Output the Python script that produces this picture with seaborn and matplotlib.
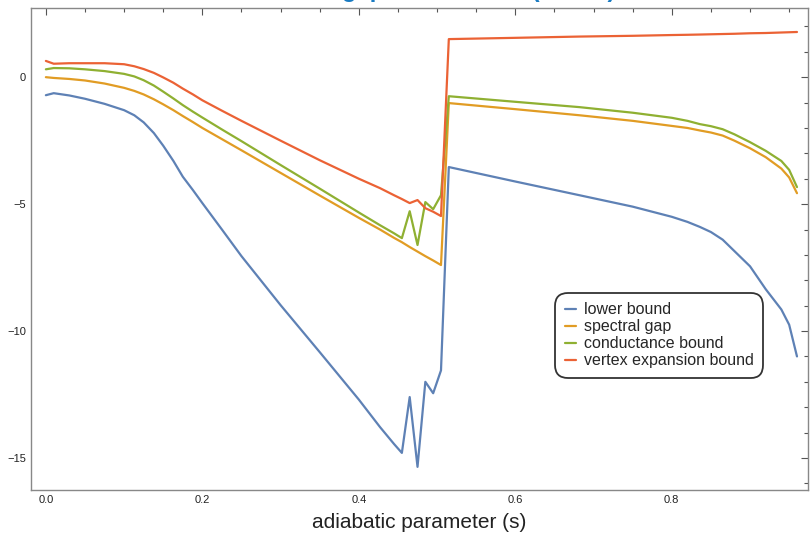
import numpy as np
import pandas as pd
import matplotlib
matplotlib.use('Agg')
import matplotlib.pyplot as plt
import seaborn as sns
from matplotlib.ticker import MultipleLocator

# adiabatic parameter samples
s = [0, 0.01, 0.03, 0.05, 0.075, 0.1, 0.113, 0.125, 0.138, 0.15, 0.163, 0.175,
     0.188, 0.2, 0.225, 0.25, 0.3, 0.35, 0.4, 0.427, 0.445, 0.455, 0.465, 0.475,
     0.485, 0.495, 0.505, 0.515, 0.6, 0.682, 0.75, 0.8, 0.82, 0.836, 0.85, 0.865,
     0.88, 0.9, 0.92, 0.94, 0.95, 0.96]

lower_bound = [-0.71, -0.63, -0.72, -0.85, -1.05, -1.3, -1.5, -1.78, -2.2, -2.7,
               -3.3, -3.92, -4.45, -4.96, -6.0, -7.05, -8.98, -10.83, -12.7, -13.78,
               -14.45, -14.8, -12.6, -15.35, -12.0, -12.45, -11.55, -3.54, -4.11,
               -4.65, -5.1, -5.5, -5.7, -5.9, -6.1, -6.4, -6.85, -7.45, -8.35,
               -9.15, -9.75, -11.0]
spectral_gap = [0.0, -0.03, -0.07, -0.13, -0.25, -0.42, -0.54, -0.68, -0.87, -1.07,
                -1.3, -1.53, -1.77, -2.0, -2.44, -2.88, -3.77, -4.66, -5.54, -6.0,
                -6.33, -6.5, -6.69, -6.87, -7.05, -7.22, -7.4, -1.02, -1.26, -1.5,
                -1.72, -1.92, -2.0, -2.1, -2.18, -2.3, -2.5, -2.8, -3.15, -3.6,
                -3.95, -4.57]
conductance = [0.31, 0.36, 0.35, 0.31, 0.24, 0.13, 0.03, -0.12, -0.33, -0.57,
               -0.84, -1.1, -1.36, -1.59, -2.06, -2.52, -3.46, -4.39, -5.33, -5.83,
               -6.15, -6.34, -5.28, -6.61, -4.92, -5.2, -4.65, -0.75, -0.97, -1.18,
               -1.4, -1.6, -1.72, -1.85, -1.93, -2.05, -2.25, -2.56, -2.9, -3.3,
               -3.65, -4.33]
vertex_expansion = [0.64, 0.53, 0.55, 0.55, 0.55, 0.51, 0.43, 0.32, 0.17, -0.01,
                    -0.22, -0.45, -0.68, -0.91, -1.32, -1.72, -2.5, -3.27, -4.0,
                    -4.37, -4.65, -4.8, -4.96, -4.84, -5.16, -5.3, -5.47, 1.5, 1.55,
                    1.6, 1.63, 1.66, 1.67, 1.68, 1.69, 1.7, 1.71, 1.73, 1.74, 1.76,
                    1.77, 1.78]

names = ['lower bound', 'spectral gap', 'conductance bound', 'vertex expansion bound']
colors = ['#5E81B5', '#E19C24', '#8FB032', '#EB6235']

df = pd.DataFrame({'s': s * 4,
                   'value': lower_bound + spectral_gap + conductance + vertex_expansion,
                   'series': sum([[n] * len(s) for n in names], [])})

sns.set_style('white')
plt.rcParams['font.family'] = ['Liberation Sans', 'DejaVu Sans']

fig = plt.figure(figsize=(8.12, 5.42), dpi=100)
ax = fig.add_axes([0.038, 0.096, 0.957, 0.889])

sns.lineplot(data=df, x='s', y='value', hue='series', hue_order=names,
             palette=colors, linewidth=1.6, sort=False, estimator=None, ax=ax)

ax.set_xlim(-0.0192, 0.974)
ax.set_ylim(-16.26, 2.72)
ax.xaxis.set_major_locator(MultipleLocator(0.2))
ax.xaxis.set_minor_locator(MultipleLocator(0.05))
ax.yaxis.set_major_locator(MultipleLocator(5))
ax.yaxis.set_minor_locator(MultipleLocator(1))
ax.xaxis.set_major_formatter(matplotlib.ticker.FormatStrFormatter('%.1f'))
ax.tick_params(which='both', direction='in', top=True, right=True,
               labeltop=False, labelright=False, color='#555555',
               labelsize=8, labelcolor='#222222', width=0.8)
ax.tick_params(which='major', length=5, pad=3.5)
ax.tick_params(which='minor', length=3)
for sp in ax.spines.values():
    sp.set_color('#888888')
    sp.set_linewidth(1.0)

ax.set_xlabel('adiabatic parameter (s)', fontsize=15, color='#222222', labelpad=6)
ax.set_ylabel('')

# title is mostly clipped above the figure in the original
fig.text(0.52, 1.006, 'Adiabatic gap and bounds (n = 10)', ha='center', va='baseline',
         fontsize=17, fontweight='bold', color='#1A7BC2')

leg = ax.legend(loc='upper left', bbox_to_anchor=(0.68, 0.401), fontsize=11.5,
                handlelength=0.7, handletextpad=0.5, labelspacing=0.12,
                frameon=True, fancybox=True, borderpad=0.35, borderaxespad=0)
leg.get_frame().set_edgecolor('black')
leg.get_frame().set_linewidth(1.3)
leg.get_frame().set_boxstyle('round,pad=0.25,rounding_size=0.8')

fig.savefig('out.png', dpi=100)
